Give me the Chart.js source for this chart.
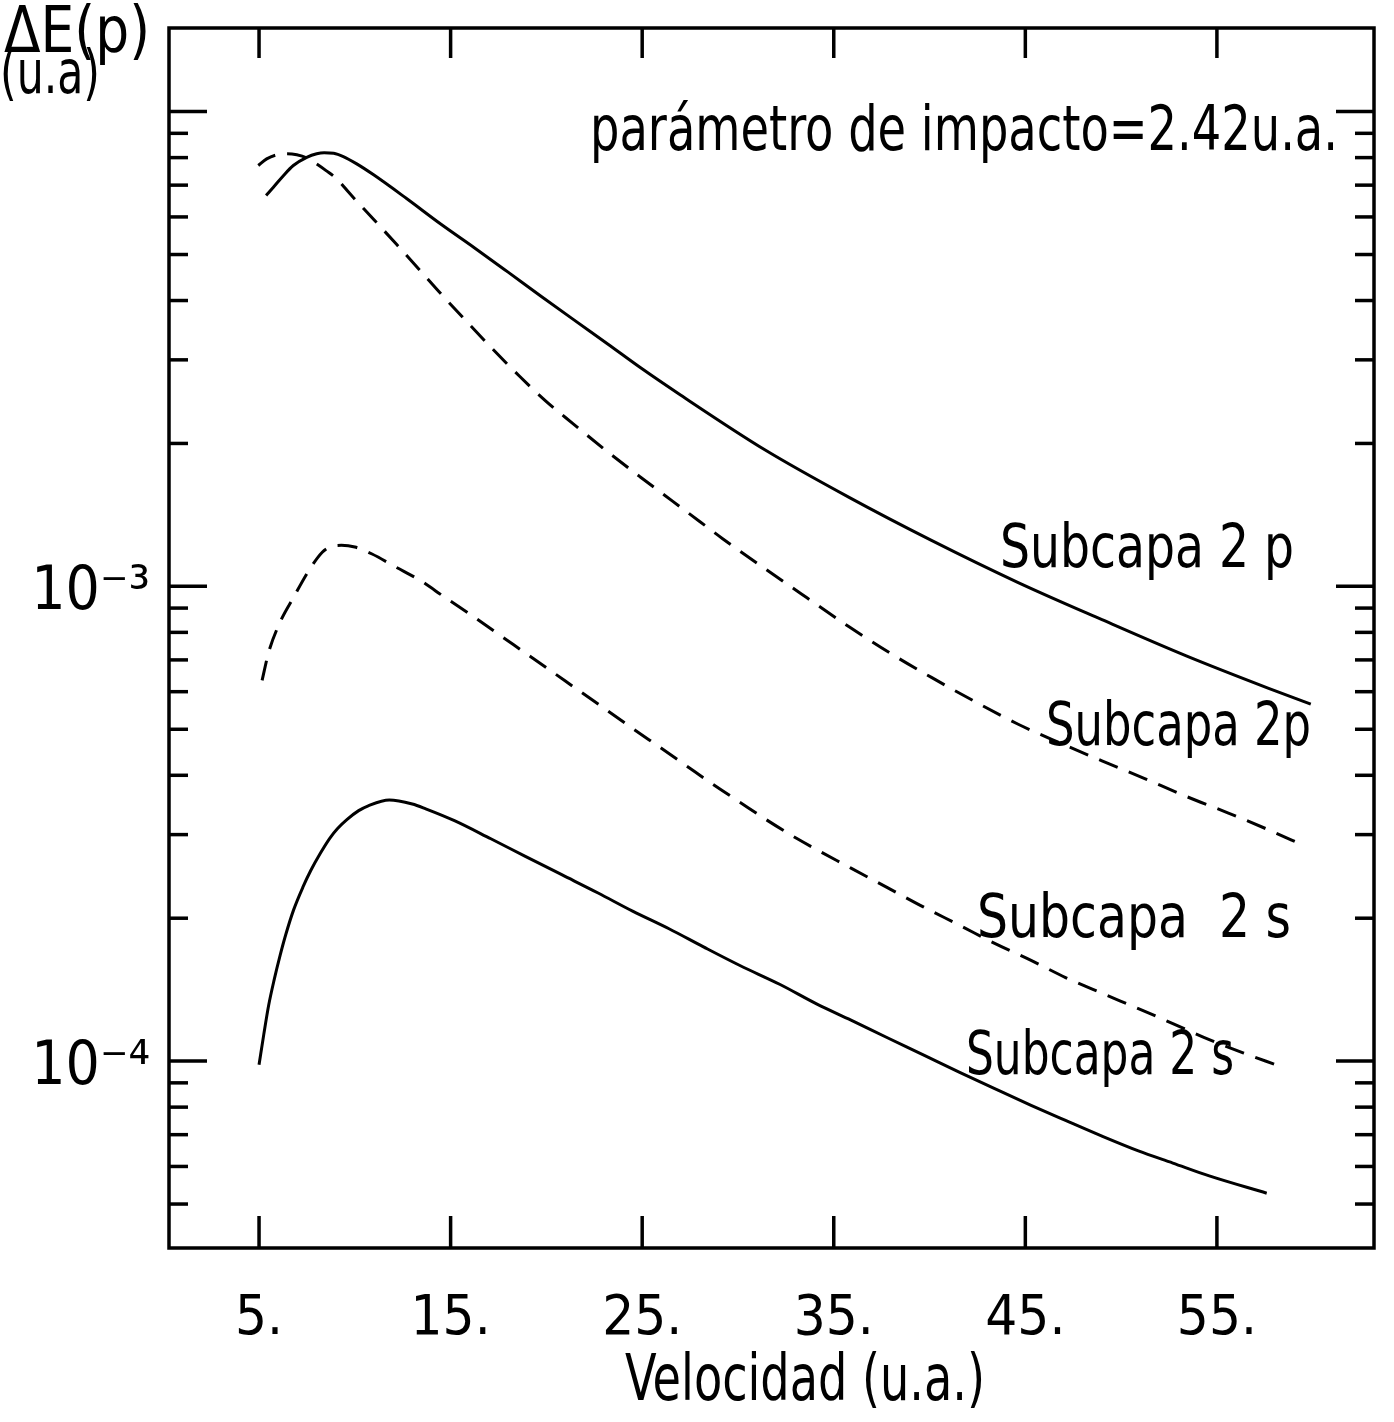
<!DOCTYPE html>
<html>
<head>
<meta charset="utf-8">
<title>ΔE(p) vs Velocidad</title>
<script src="https://cdn.jsdelivr.net/npm/chart.js@4.4.1/dist/chart.umd.min.js"></script>
<style>
  html, body { margin: 0; padding: 0; background: #fff; }
  canvas { display: block; }
</style>
</head>
<body>
<canvas id="chart" width="1394" height="1422"></canvas>
<script>
const FONT = "'DejaVu Sans Condensed', 'Liberation Sans Narrow', 'DejaVu Sans', sans-serif"

const xTicks = [5, 15, 25, 35, 45, 55]
const yTicks = [
  5e-5, 6e-5, 7e-5, 8e-5, 9e-5,
  1e-4, 2e-4, 3e-4, 4e-4, 5e-4, 6e-4, 7e-4, 8e-4, 9e-4,
  1e-3, 2e-3, 3e-3, 4e-3, 5e-3, 6e-3, 7e-3, 8e-3, 9e-3,
  1e-2,
]
const yTickLabels = { '-3': '10⁻³', '-4': '10⁻⁴' }

// Subcapa 2p, trazo continuo
const solid2pVel = [5.37, 5.75, 6.27, 6.79, 7.49, 8.01, 8.4, 8.9, 9.4, 10.1, 11.0, 12.7, 14.5, 16.2, 18.0, 19.7, 21.4, 23.2, 24.9, 27.0, 31.4, 35.8, 40.1, 44.6, 49.0, 53.4, 57.7, 59.9]
const solid2pVal = [6.66e-3, 6.93e-3, 7.33e-3, 7.7e-3, 8.01e-3, 8.15e-3, 8.19e-3, 8.17e-3, 8.04e-3, 7.76e-3, 7.35e-3, 6.56e-3, 5.79e-3, 5.18e-3, 4.59e-3, 4.09e-3, 3.65e-3, 3.24e-3, 2.89e-3, 2.53e-3, 1.94e-3, 1.54e-3, 1.25e-3, 1.02e-3, 8.51e-4, 7.14e-4, 6.1e-4, 5.65e-4]

// Subcapa 2p, trazo discontinuo
const dashed2pVel = [4.96, 5.4, 5.92, 6.45, 6.97, 7.49, 8.0, 8.5, 9.05, 9.75, 11.0, 12.2, 13.3, 14.5, 15.9, 17.2, 18.6, 20.0, 21.4, 23.2, 24.9, 26.6, 28.0, 29.2, 31.4, 33.6, 35.8, 38.0, 40.1, 42.4, 44.6, 46.8, 49.0, 51.2, 53.4, 55.6, 57.7, 59.5]
const dashed2pVal = [7.7e-3, 7.95e-3, 8.11e-3, 8.15e-3, 8.11e-3, 7.99e-3, 7.76e-3, 7.51e-3, 7.22e-3, 6.71e-3, 5.92e-3, 5.24e-3, 4.68e-3, 4.13e-3, 3.59e-3, 3.16e-3, 2.77e-3, 2.45e-3, 2.2e-3, 1.92e-3, 1.7e-3, 1.51e-3, 1.37e-3, 1.26e-3, 1.09e-3, 9.46e-4, 8.22e-4, 7.21e-4, 6.43e-4, 5.71e-4, 5.13e-4, 4.68e-4, 4.29e-4, 3.94e-4, 3.61e-4, 3.33e-4, 3.07e-4, 2.85e-4]

// Subcapa 2s, trazo discontinuo
const dashed2sVel = [5.16, 5.5, 6.1, 6.8, 7.6, 8.3, 8.7, 9.3, 10.0, 10.9, 12.1, 13.4, 14.7, 16.1, 17.4, 18.9, 20.3, 21.7, 23.2, 24.5, 26.0, 27.3, 28.6, 30.1, 31.4, 33.1, 35.9, 37.8, 39.7, 41.6, 43.4, 45.3, 47.1, 49.0, 50.9, 52.7, 54.6, 56.4, 58.1]
const dashed2sVal = [6.34e-4, 7.26e-4, 8.41e-4, 9.48e-4, 1.08e-3, 1.18e-3, 1.21e-3, 1.22e-3, 1.21e-3, 1.17e-3, 1.1e-3, 1.03e-3, 9.48e-4, 8.69e-4, 7.98e-4, 7.24e-4, 6.61e-4, 6.03e-4, 5.47e-4, 5.02e-4, 4.56e-4, 4.19e-4, 3.85e-4, 3.51e-4, 3.24e-4, 2.94e-4, 2.55e-4, 2.32e-4, 2.11e-4, 1.93e-4, 1.77e-4, 1.63e-4, 1.5e-4, 1.39e-4, 1.29e-4, 1.2e-4, 1.11e-4, 1.04e-4, 9.82e-5]

// Subcapa 2s, trazo continuo
const solid2sVel = [5.0, 5.25, 5.5, 5.8, 6.1, 6.4, 6.8, 7.3, 7.7, 8.2, 8.7, 9.1, 9.6, 10.2, 10.7, 11.8, 13.0, 13.7, 15.2, 17.1, 18.9, 20.8, 22.7, 24.5, 26.4, 28.2, 30.1, 32.2, 34.1, 35.9, 37.8, 39.7, 41.6, 43.4, 45.3, 47.1, 49.0, 50.9, 52.7, 54.6, 57.6]
const solid2sVal = [9.83e-5, 1.14e-4, 1.31e-4, 1.49e-4, 1.67e-4, 1.85e-4, 2.08e-4, 2.33e-4, 2.52e-4, 2.74e-4, 2.95e-4, 3.09e-4, 3.23e-4, 3.37e-4, 3.45e-4, 3.55e-4, 3.48e-4, 3.4e-4, 3.21e-4, 2.94e-4, 2.7e-4, 2.47e-4, 2.26e-4, 2.07e-4, 1.9e-4, 1.74e-4, 1.59e-4, 1.45e-4, 1.32e-4, 1.22e-4, 1.12e-4, 1.03e-4, 9.46e-5, 8.75e-5, 8.07e-5, 7.5e-5, 6.95e-5, 6.47e-5, 6.1e-5, 5.73e-5, 5.27e-5]

const toPoints = (xs, ys) => xs.map((v, i) => ({ x: v, y: ys[i] }))

const curve = (label, xs, ys, dash) => ({
  label,
  data: toPoints(xs, ys),
  borderColor: '#000',
  borderWidth: 3,
  borderDash: dash,
  pointRadius: 0,
  cubicInterpolationMode: 'monotone',
  fill: false,
})

const isDecade = (v) => Math.abs(Math.log10(v) - Math.round(Math.log10(v))) < 1e-6

// marco e indicadores hacia dentro, como en el original
const frameTicks = {
  id: 'frameTicks',
  afterDatasetsDraw(chart) {
    const { ctx, chartArea: a, scales } = chart
    const line = (x1, y1, x2, y2) => {
      ctx.beginPath()
      ctx.moveTo(x1, y1)
      ctx.lineTo(x2, y2)
      ctx.stroke()
    }
    ctx.save()
    ctx.setLineDash([])
    ctx.strokeStyle = '#000'
    ctx.lineWidth = 3.5
    ctx.strokeRect(a.left, a.top, a.right - a.left, a.bottom - a.top)
    scales.x.ticks.forEach((t) => {
      const px = scales.x.getPixelForValue(t.value)
      line(px, a.bottom, px, a.bottom - 32)
      line(px, a.top, px, a.top + 30)
    })
    scales.y.ticks.forEach((t) => {
      const py = scales.y.getPixelForValue(t.value)
      const len = isDecade(t.value) ? 38 : 19
      line(a.left, py, a.left + len, py)
      line(a.right, py, a.right - len, py)
    })
    ctx.restore()
  },
}

// textos del dibujo; se estrechan para imitar la rotulación original
const annotations = {
  id: 'annotations',
  afterDraw(chart) {
    const { ctx } = chart
    const text = (s, x, y, size, width) => {
      ctx.font = size + 'px ' + FONT
      const w = ctx.measureText(s).width
      ctx.save()
      ctx.translate(x, y)
      ctx.scale(width / w, 1)
      ctx.fillText(s, 0, 0)
      ctx.restore()
    }
    ctx.save()
    ctx.fillStyle = '#000'
    ctx.textAlign = 'left'
    ctx.textBaseline = 'alphabetic'
    text('ΔE(p)', 4, 52, 64, 146)
    text('(u.a)', 0, 93, 60, 100)
    text('parámetro de impacto=2.42u.a.', 590, 150, 62, 748)
    text('Subcapa 2 p', 1000, 567, 60, 294)
    text('Subcapa 2p', 1046, 745, 60, 265)
    text('Subcapa  2 s', 977, 937, 60, 314)
    text('Subcapa 2 s', 966, 1074, 60, 268)
    text('Velocidad (u.a.)', 625, 1400, 64, 360)
    ctx.restore()
  },
}

new Chart(document.getElementById('chart'), {
  type: 'line',
  data: {
    datasets: [
      curve('Subcapa 2p (continua)', solid2pVel, solid2pVal, []),
      curve('Subcapa 2p (discontinua)', dashed2pVel, dashed2pVal, [20, 12]),
      curve('Subcapa 2s (discontinua)', dashed2sVel, dashed2sVal, [20, 12]),
      curve('Subcapa 2s (continua)', solid2sVel, solid2sVal, []),
    ],
  },
  options: {
    responsive: false,
    animation: false,
    layout: { padding: { top: 28, right: 20, left: 0, bottom: 0 } },
    plugins: {
      legend: { display: false },
      tooltip: { enabled: false },
    },
    scales: {
      x: {
        type: 'linear',
        min: 0.3,
        max: 63.2,
        afterBuildTicks: (s) => { s.ticks = xTicks.map((v) => ({ value: v })) },
        afterFit: (s) => {
          s.height = 174
          s.paddingLeft = 0
          s.paddingRight = 0
        },
        grid: { drawOnChartArea: false, drawTicks: false },
        border: { display: false },
        ticks: {
          autoSkip: false,
          maxRotation: 0,
          padding: 38,
          color: '#000',
          font: { family: FONT, size: 56 },
          callback: (v) => v + '.',
        },
      },
      y: {
        type: 'logarithmic',
        min: 4.04e-5,
        max: 1.5e-2,
        afterBuildTicks: (s) => { s.ticks = yTicks.map((v) => ({ value: v })) },
        afterFit: (s) => {
          s.width = 169
          s.paddingTop = 0
          s.paddingBottom = 0
        },
        grid: { drawOnChartArea: false, drawTicks: false },
        border: { display: false },
        ticks: {
          autoSkip: false,
          padding: 19,
          labelOffset: 7,
          color: '#000',
          font: { family: FONT, size: 60 },
          callback: (v) => (isDecade(v) && yTickLabels[String(Math.round(Math.log10(v)))]) || '',
        },
      },
    },
  },
  plugins: [frameTicks, annotations],
})
</script>
</body>
</html>
